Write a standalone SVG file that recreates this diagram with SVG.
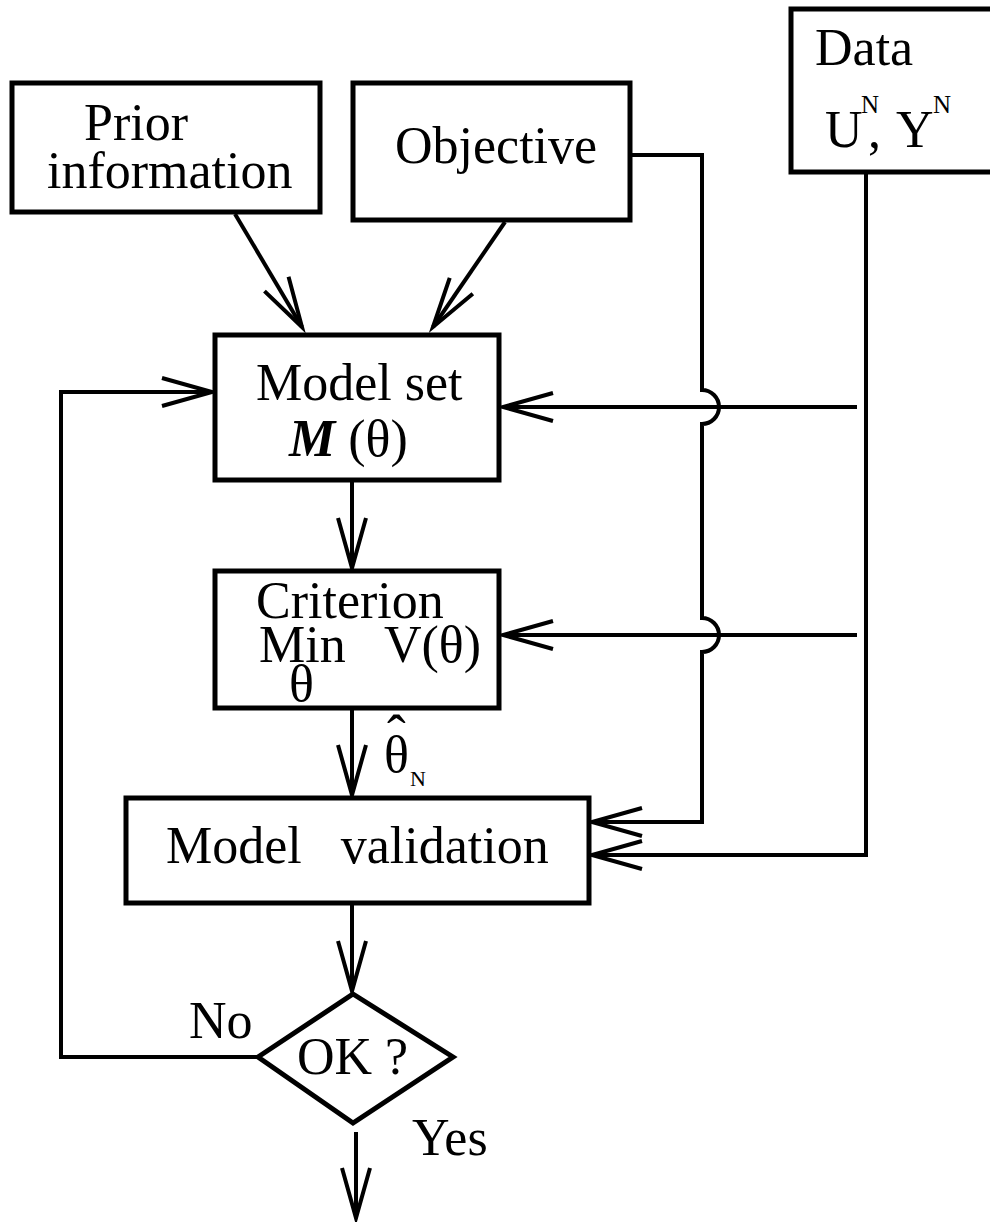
<svg xmlns="http://www.w3.org/2000/svg" width="990" height="1222" viewBox="0 0 990 1222">
<style>
.box{fill:#fff;stroke:#000;stroke-width:5}
.ln{fill:none;stroke:#000;stroke-width:4}
text{font-family:"Liberation Serif","Times New Roman",serif;fill:#000;font-size:52px}
.sup{font-size:25px}
.sub{font-size:22px}
.hat{font-size:56px}
</style>
<defs>
<marker id="ah" markerUnits="userSpaceOnUse" orient="auto" refX="0" refY="0" markerWidth="60" markerHeight="40" viewBox="-55 -20 60 40" overflow="visible">
<path d="M-50,-14 L0,0 L-50,14" fill="none" stroke="#000" stroke-width="4"/>
</marker>
</defs>
<g id="connectors">
<line class="ln" x1="235" y1="214" x2="302" y2="327" marker-end="url(#ah)"/>
<line class="ln" x1="505" y1="222" x2="433" y2="327" marker-end="url(#ah)"/>
<line class="ln" x1="857" y1="407" x2="503" y2="407" marker-end="url(#ah)"/>
<line class="ln" x1="857" y1="635" x2="503" y2="635" marker-end="url(#ah)"/>
<path class="ln" d="M632,155 H702 V390 A17,17 0 0 1 702,424 V618 A17,17 0 0 1 702,652 V822 H592" marker-end="url(#ah)"/>
<path class="ln" d="M866,172 V855 H592" marker-end="url(#ah)"/>
<line class="ln" x1="352" y1="482" x2="352" y2="568" marker-end="url(#ah)"/>
<line class="ln" x1="352" y1="710" x2="352" y2="795" marker-end="url(#ah)"/>
<line class="ln" x1="352" y1="905" x2="352" y2="991" marker-end="url(#ah)"/>
<path class="ln" d="M258,1057 H61 V392 H212" marker-end="url(#ah)"/>
<line class="ln" x1="356" y1="1132" x2="356" y2="1218" marker-end="url(#ah)"/>
</g>
<g id="prior">
<rect class="box" x="12" y="83" width="308" height="129"/>
<text x="84" y="140">Prior</text>
<text x="47" y="188">information</text>
</g>
<g id="objective">
<rect class="box" x="353" y="83" width="277" height="137"/>
<text x="395" y="163">Objective</text>
</g>
<g id="data">
<rect class="box" x="791" y="9" width="210" height="163"/>
<text x="815" y="65">Data</text>
<text x="825" y="147">U<tspan class="sup" x="861" y="113">N</tspan><tspan x="868" y="147">,</tspan><tspan x="896">Y</tspan><tspan class="sup" x="933" y="113">N</tspan></text>
</g>
<g id="modelset">
<rect class="box" x="215" y="335" width="284" height="145"/>
<text x="256" y="400">Model set</text>
<text x="289" y="456"><tspan font-style="italic" font-weight="bold">M</tspan> (θ)</text>
</g>
<g id="criterion">
<rect class="box" x="215" y="571" width="284" height="137"/>
<text><tspan x="256" y="618">Criterion</tspan><tspan x="259" y="662">Min</tspan><tspan x="384" y="662">V(θ)</tspan><tspan x="289" y="701">θ</tspan></text>
</g>
<g id="thetahat">
<text x="384" y="772">θ<tspan class="hat" x="387" y="754">ˆ</tspan><tspan class="sub" x="410" y="786">N</tspan></text>
</g>
<g id="validation">
<rect class="box" x="126" y="798" width="463" height="105"/>
<text x="166" y="863" xml:space="preserve">Model   validation</text>
</g>
<g id="ok">
<polygon class="box" points="353,994 453,1057 353,1123 258,1057"/>
<text x="297" y="1074">OK ?</text>
</g>
<text x="189" y="1038">No</text>
<text x="412" y="1155">Yes</text>
</svg>
